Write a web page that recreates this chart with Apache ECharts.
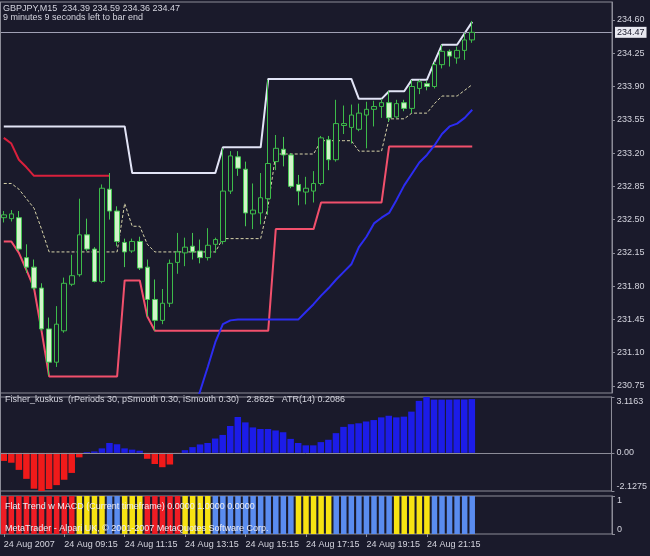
<!DOCTYPE html>
<html><head><meta charset="utf-8">
<script src="https://cdn.jsdelivr.net/npm/echarts@6/dist/echarts.min.js"></script>
<style>html,body{margin:0;padding:0;background:#1a1a2b;}#c{width:650px;height:556px;}</style>
</head><body><div id="c"></div>
<script>
// ---- data ----
const categories = [
'07:15','07:30','07:45','08:00','08:15','08:30','08:45','09:00',
'09:15','09:30','09:45','10:00','10:15','10:30','10:45','11:00',
'11:15','11:30','11:45','12:00','12:15','12:30','12:45','13:00',
'13:15','13:30','13:45','14:00','14:15','14:30','14:45','15:00',
'15:15','15:30','15:45','16:00','16:15','16:30','16:45','17:00',
'17:15','17:30','17:45','18:00','18:15','18:30','18:45','19:00',
'19:15','19:30','19:45','20:00','20:15','20:30','20:45','21:00',
'21:15','21:30','21:45','22:00','22:15','22:30','22:45'];
const emptySlots = 18;

const opens = [232.52,232.51,232.52,232.10,232.00,231.78,231.35,231.00,231.33,231.82,
231.92,232.34,232.19,231.85,232.82,232.59,232.26,232.17,232.27,232.00,
231.66,231.44,231.62,232.05,232.15,232.22,232.17,232.10,232.24,232.27,
232.80,233.16,233.03,232.56,232.57,232.72,233.11,233.24,233.18,232.87,
232.79,232.80,232.88,233.34,233.13,233.49,233.47,233.45,233.60,233.66,
233.69,233.73,233.58,233.73,233.67,233.88,233.93,233.90,234.13,234.27,
234.20,234.28,234.39];
const closes = [232.55,232.56,232.19,232.00,231.78,231.35,231.00,231.40,231.83,231.91,
232.34,232.19,231.85,232.83,232.59,232.27,232.16,232.27,231.99,231.66,
231.44,231.62,232.04,232.16,232.21,232.16,232.10,232.23,232.29,232.80,
233.17,233.04,232.57,232.60,232.73,233.09,233.25,233.18,232.85,232.80,
232.83,232.88,233.36,233.13,233.51,233.51,233.60,233.62,233.66,233.69,
233.73,233.57,233.72,233.67,233.90,233.95,233.90,234.13,234.27,234.22,
234.28,234.39,234.47];
const lows = [232.47,232.48,232.17,231.94,231.76,231.33,230.86,230.95,231.31,231.80,
231.90,232.17,231.84,231.83,232.50,232.22,232.00,232.15,231.97,231.48,
231.33,231.40,231.58,231.93,232.01,232.08,232.04,232.07,232.15,232.24,
232.77,232.96,232.43,232.40,232.45,232.55,233.02,233.06,232.83,232.65,
232.66,232.68,232.86,233.02,233.11,233.40,233.30,233.43,233.25,233.48,
233.57,233.53,233.57,233.64,233.62,233.82,233.86,233.88,234.09,234.11,
234.14,234.18,234.36];
const highs = [232.59,232.60,232.59,232.24,232.08,231.83,231.47,231.59,231.89,232.13,
232.72,232.51,232.21,232.87,232.99,232.64,232.30,232.30,232.32,232.08,
231.87,231.77,232.08,232.36,232.31,232.36,232.29,232.41,232.31,233.25,
233.22,233.22,233.11,232.88,232.99,233.97,233.39,233.37,233.20,232.97,
232.95,233.01,233.38,233.38,233.76,233.70,233.71,233.72,233.74,233.75,
233.77,233.85,233.76,233.76,233.97,233.97,233.96,234.16,234.34,234.29,
234.32,234.46,234.59];

const upperBand = [233.48,233.48,233.48,233.48,233.48,233.48,233.48,233.48,233.48,233.48,
233.48,233.48,233.48,233.48,233.48,233.48,233.48,232.99,232.99,232.99,
232.99,232.99,232.99,232.99,232.99,232.99,232.99,232.99,232.99,233.26,
233.26,233.26,233.26,233.26,233.26,233.98,233.98,233.98,233.98,233.98,
233.98,233.98,233.98,233.98,233.98,233.98,233.98,233.77,233.77,233.77,
233.77,233.85,233.85,233.85,233.97,233.97,233.97,234.16,234.34,234.34,
234.34,234.46,234.58];
const lowerBand = [232.27,232.27,232.15,231.97,231.78,231.33,230.85,230.85,230.85,230.85,
230.85,230.85,230.85,230.85,230.85,230.85,231.86,231.86,231.86,231.48,
231.33,231.33,231.33,231.33,231.33,231.33,231.33,231.33,231.33,231.33,
231.33,231.33,231.33,231.33,231.33,231.33,232.40,232.40,232.40,232.40,
232.40,232.40,232.68,232.68,232.68,232.68,232.68,232.68,232.68,232.68,
232.68,233.27,233.27,233.27,233.27,233.27,233.27,233.27,233.27,233.27,
233.27,233.27,233.27];
const midBand = [232.88,232.88,232.82,232.72,232.62,232.40,232.16,232.16,232.16,232.16,
232.16,232.16,232.16,232.16,232.16,232.16,232.67,232.43,232.43,232.24,
232.16,232.16,232.16,232.16,232.16,232.16,232.16,232.16,232.16,232.30,
232.30,232.30,232.30,232.30,232.30,232.65,233.19,233.19,233.19,233.19,
233.19,233.19,233.33,233.33,233.33,233.33,233.33,233.22,233.22,233.22,
233.22,233.56,233.56,233.56,233.62,233.62,233.62,233.72,233.80,233.80,
233.80,233.86,233.92];
const redStopStart = 0;
const redStop = [233.36,233.30,233.13,233.05,232.96,232.96,232.96,232.96,232.96,232.96,
232.96,232.96,232.96,232.96,232.96];
const blueStart = 25;
const blueLine = [230.45,230.70,230.95,231.21,231.40,231.44,231.45,231.45,231.45,231.45,
231.45,231.45,231.45,231.45,231.45,231.53,231.61,231.70,231.78,231.87,
231.95,232.03,232.21,232.32,232.46,232.52,232.57,232.71,232.86,232.98,
233.10,233.18,233.28,233.40,233.48,233.51,233.57,233.655];

const fisher = [-0.45,-0.55,-0.95,-1.45,-2.0,-2.1275,-2.02,-1.8,-1.5,-1.12,
-0.25,0.04,0.08,0.25,0.55,0.48,0.25,0.18,0.12,-0.33,
-0.62,-0.8,-0.65,-0.06,0.15,0.32,0.47,0.55,0.8,1.0,
1.5,2.0,1.7,1.42,1.33,1.33,1.25,1.15,0.78,0.55,
0.42,0.42,0.6,0.73,1.1,1.45,1.6,1.65,1.75,1.83,
1.98,2.07,1.98,2.02,2.3,2.9,3.1163,2.97,2.97,2.97,
2.98,2.98,3.0];
const flatState = ['R','R','R','R','R','R','R','R','R','R',
'Y','Y','Y','Y','B','B','Y','Y','Y','R',
'R','R','R','R','Y','Y','Y','Y','B','B',
'B','B','B','B','B','B','B','B','B','Y',
'Y','Y','Y','Y','B','B','B','B','B','B',
'B','B','Y','Y','Y','Y','Y','B','B','B',
'B','B','B'];

const priceTicks = [230.75,231.10,231.45,231.80,232.15,232.50,232.85,233.20,233.55,233.90,234.25,234.60];
const priceMin = 230.676, priceMax = 234.789;
const lastPrice = 234.47;
const fisherTicks = [-2.1275, 0, 3.1163];
const fisherTickLabels = ['-2.1275', '0.00', '3.1163'];
const flatTicks = [0, 1];
const flatTickLabels = ['0', '1'];
const xTickIndex = [0, 8, 16, 24, 32, 40, 48, 56];
const xTickText = ['24 Aug 2007','24 Aug 09:15','24 Aug 11:15','24 Aug 13:15','24 Aug 15:15','24 Aug 17:15','24 Aug 19:15','24 Aug 21:15'];

const headerLine1 = 'GBPJPY,M15  234.39 234.59 234.36 234.47';
const headerLine2 = '9 minutes 9 seconds left to bar end';
const fisherTitle = 'Fisher_kuskus  (rPeriods 30, pSmooth 0.30, iSmooth 0.30)   2.8625   ATR(14) 0.2086';
const flatTitle = 'Flat Trend w MACD (Current timeframe) 0.0000 1.0000 0.0000';
const footer = 'MetaTrader - Alpari UK, \u00a9 2001-2007 MetaQuotes Software Corp.';

// ---- build ----
const BG = '#1a1a2b', FRAME = '#8c8c98', TXT = '#d4d4de';
const FONT = 'Liberation Sans';
const cats = categories.concat(Array(emptySlots).fill(''));
const candleData = opens.map((o, i) => [o, closes[i], lows[i], highs[i]]);
function place(start, vals) { const a = Array(categories.length).fill(null); vals.forEach((v, k) => a[start + k] = v); return a; }
const flatColors = { R: '#ee1c24', Y: '#f7e312', B: '#5a8cef' };
const flatData = flatState.map(s => ({ value: 1, itemStyle: { color: flatColors[s] } }));

const gridBase = { left: -2, right: 38, show: true, borderColor: FRAME, borderWidth: 1, backgroundColor: 'transparent' };
const xBase = { type: 'category', data: cats, boundaryGap: true, axisLine: { show: false }, axisTick: { show: false }, axisLabel: { show: false }, splitLine: { show: false } };
const lineBase = { type: 'line', xAxisIndex: 0, yAxisIndex: 0, symbol: 'none', smooth: false, silent: true, animation: false };

const chart = echarts.init(document.getElementById('c'), null, { renderer: 'canvas' });
chart.setOption({
  backgroundColor: BG,
  animation: false,
  textStyle: { fontFamily: FONT },
  grid: [
    Object.assign({}, gridBase, { top: 2, height: 391 }),
    Object.assign({}, gridBase, { top: 397, height: 94 }),
    Object.assign({}, gridBase, { top: 496, height: 38 })
  ],
  xAxis: [
    Object.assign({}, xBase, { gridIndex: 0 }),
    Object.assign({}, xBase, { gridIndex: 1 }),
    Object.assign({}, xBase, { gridIndex: 2,
      axisTick: { show: true, alignWithLabel: true, interval: (i) => xTickIndex.includes(i), length: 3, lineStyle: { color: FRAME } },
      axisLabel: { show: true, interval: (i) => xTickIndex.includes(i), align: 'left', color: TXT, fontSize: 9, fontFamily: FONT, margin: 6,
        formatter: (v, i) => { const k = xTickIndex.indexOf(i); return k >= 0 ? xTickText[k] : ''; } } })
  ],
  yAxis: [
    { type: 'value', gridIndex: 0, position: 'right', min: priceMin, max: priceMax, splitLine: { show: false },
      axisLine: { show: true, lineStyle: { color: FRAME } },
      axisTick: { show: true, customValues: priceTicks, length: 3, lineStyle: { color: FRAME } },
      axisLabel: { customValues: priceTicks, color: TXT, fontSize: 9, fontFamily: FONT, margin: 5, formatter: v => v.toFixed(2) } },
    { type: 'value', gridIndex: 1, position: 'right', min: fisherTicks[0], max: fisherTicks[2], splitLine: { show: false },
      axisLine: { show: true, lineStyle: { color: FRAME } },
      axisTick: { show: true, customValues: fisherTicks, length: 3, lineStyle: { color: FRAME } },
      axisLabel: { customValues: fisherTicks, color: TXT, fontSize: 9, fontFamily: FONT, margin: 5,
        verticalAlignMinLabel: 'bottom', verticalAlignMaxLabel: 'top',
        formatter: v => fisherTickLabels[fisherTicks.findIndex(t => Math.abs(t - v) < 1e-6)] } },
    { type: 'value', gridIndex: 2, position: 'right', min: 0, max: 1, splitLine: { show: false },
      axisLine: { show: true, lineStyle: { color: FRAME } },
      axisTick: { show: true, customValues: flatTicks, length: 3, lineStyle: { color: FRAME } },
      axisLabel: { customValues: flatTicks, color: TXT, fontSize: 9, fontFamily: FONT, margin: 5,
        verticalAlignMinLabel: 'bottom', verticalAlignMaxLabel: 'top',
        formatter: v => flatTickLabels[flatTicks.indexOf(v)] } }
  ],
  series: [
    Object.assign({}, lineBase, { name: 'upper', data: upperBand, lineStyle: { color: '#e2e4f6', width: 2 }, z: 3 }),
    Object.assign({}, lineBase, { name: 'lower', data: lowerBand, lineStyle: { color: '#f2506c', width: 2 }, z: 3 }),
    Object.assign({}, lineBase, { name: 'redStop', data: place(redStopStart, redStop), lineStyle: { color: '#d9203c', width: 2 }, z: 3 }),
    Object.assign({}, lineBase, { name: 'blue', data: place(blueStart, blueLine), lineStyle: { color: '#2c2cf2', width: 2 }, z: 3 }),
    Object.assign({}, lineBase, { name: 'mid', data: midBand, lineStyle: { color: '#d8d4aa', width: 1, type: [3, 2] }, z: 4 }),
    { type: 'candlestick', xAxisIndex: 0, yAxisIndex: 0, data: candleData, barWidth: 5, z: 5, silent: true,
      itemStyle: { color: BG, color0: '#d2f3ca', borderColor: '#3dbb4a', borderColor0: '#46c653', borderWidth: 1 },
      markLine: { symbol: 'none', silent: true, animation: false,
        data: [{ yAxis: lastPrice }],
        lineStyle: { color: '#a0a0b4', width: 1, type: 'solid' },
        label: { show: true, position: 'end', formatter: lastPrice.toFixed(2), backgroundColor: '#e8e8f0', color: '#1a1a2b',
          fontSize: 9, fontFamily: FONT, padding: [1, 2], distance: 3 } } },
    { type: 'bar', xAxisIndex: 1, yAxisIndex: 1, data: fisher, barWidth: 6.5, silent: true,
      itemStyle: { color: p => p.value < 0 ? '#f01a1a' : '#1c1ce8' },
      markLine: { symbol: 'none', silent: true, animation: false, data: [{ yAxis: 0 }],
        lineStyle: { color: '#8c8c98', width: 1, type: 'solid' }, label: { show: false } } },
    { type: 'bar', xAxisIndex: 2, yAxisIndex: 2, data: flatData, barWidth: 5.5, silent: true }
  ],
  graphic: [
    { type: 'line', shape: { x1: 0.5, y1: 2, x2: 0.5, y2: 534 }, style: { stroke: FRAME, lineWidth: 1 }, silent: true, z: 10 },
    { type: 'text', left: 3, top: 4, style: { text: headerLine1, fill: TXT, fontSize: 9, fontFamily: FONT }, z: 10 },
    { type: 'text', left: 3, top: 13, style: { text: headerLine2, fill: TXT, fontSize: 9, fontFamily: FONT }, z: 10 },
    { type: 'text', left: 5, top: 395, style: { text: fisherTitle, fill: TXT, fontSize: 9, fontFamily: FONT }, z: 10 },
    { type: 'text', left: 5, top: 502, style: { text: flatTitle, fill: '#ececf4', fontSize: 9, fontFamily: FONT }, z: 10 },
    { type: 'text', left: 5, top: 524, style: { text: footer, fill: '#ececf4', fontSize: 9, fontFamily: FONT }, z: 10 }
  ]
});
</script></body></html>
